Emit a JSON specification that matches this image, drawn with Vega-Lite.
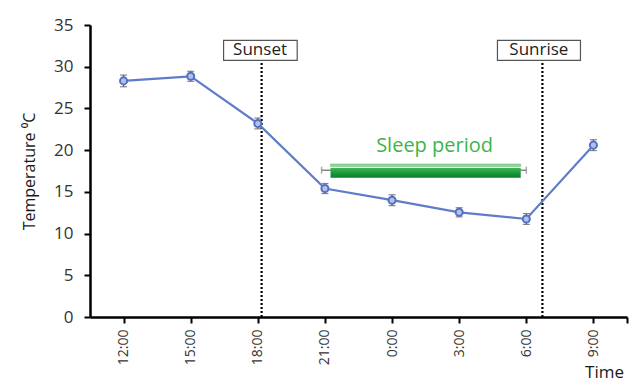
{
  "$schema": "https://vega.github.io/schema/vega-lite/v6.json",
  "width": 537,
  "height": 292,
  "autosize": "none",
  "padding": {"left": 90, "top": 25, "right": 13, "bottom": 71},
  "background": "white",
  "config": {
    "view": {"stroke": null},
    "font": "Open Sans",
    "axis": {"grid": false, "domainColor": "black", "domainWidth": 2.5, "tickColor": "black", "tickWidth": 2, "tickSize": 6, "labelColor": "#333333", "titleColor": "#1a1a1a", "titleFontWeight": "normal"}
  },
  "datasets": {
    "temps": [
      {"h": 0, "time": "12:00", "temp": 28.3, "err": 0.7},
      {"h": 3, "time": "15:00", "temp": 28.85, "err": 0.6},
      {"h": 6, "time": "18:00", "temp": 23.2, "err": 0.65},
      {"h": 9, "time": "21:00", "temp": 15.4, "err": 0.6},
      {"h": 12, "time": "0:00", "temp": 14.0, "err": 0.65},
      {"h": 15, "time": "3:00", "temp": 12.55, "err": 0.55},
      {"h": 18, "time": "6:00", "temp": 11.75, "err": 0.65},
      {"h": 21, "time": "9:00", "temp": 20.6, "err": 0.65}
    ],
    "events": [
      {"label": "Sunset", "h": 6.17, "bx": 4.47, "bx2": 7.76, "tx": 6.1},
      {"label": "Sunrise", "h": 18.72, "bx": 16.71, "bx2": 20.42, "tx": 18.56}
    ],
    "sleep": [
      {"label": "Sleep period", "start": 9.25, "end": 17.75, "wstart": 8.85, "wend": 18.0, "wy": 17.6, "lo": 16.7, "hi": 17.85, "slo": 18.0, "shi": 18.35, "ty": 19.8, "tx": 13.9}
    ]
  },
  "layer": [
    {
      "data": {"name": "events"},
      "mark": {"type": "rule", "color": "black", "strokeWidth": 2.2, "strokeDash": [2, 2]},
      "encoding": {
        "x": {"field": "h", "type": "quantitative", "title": "Time", "scale": {"domain": [-1.5, 22.5], "nice": false, "zero": false},
          "axis": {"values": [0, 3, 6, 9, 12, 15, 18, 21, 22.5], "labelAngle": -90, "labelFontSize": 14, "labelPadding": 6, "labelAlign": "right", "labelBaseline": "middle",
            "labelExpr": "datum.value > 21 ? '' : ['12:00','15:00','18:00','21:00','0:00','3:00','6:00','9:00'][datum.value/3]",
            "titleFontSize": 17, "titleX": 514, "titleY": 60, "titleAlign": "center", "titleBaseline": "alphabetic"}},
        "y": {"datum": 0, "type": "quantitative", "title": "Temperature ⁰C", "scale": {"domain": [0, 35], "nice": false},
          "axis": {"values": [0, 5, 10, 15, 20, 25, 30, 35], "labelFontSize": 17, "labelPadding": 11, "titleFontSize": 16, "titlePadding": 16}},
        "y2": {"datum": 30.8}
      }
    },
    {
      "data": {"name": "events"},
      "mark": {"type": "rect", "fill": "white", "stroke": "#555555", "strokeWidth": 1.2},
      "encoding": {
        "x": {"field": "bx", "type": "quantitative", "title": "Time"},
        "x2": {"field": "bx2"},
        "y": {"datum": 30.75, "type": "quantitative", "title": "Temperature ⁰C"},
        "y2": {"datum": 33.15}
      }
    },
    {
      "data": {"name": "events"},
      "mark": {"type": "text", "fontSize": 17, "color": "#222222", "baseline": "middle", "align": "center"},
      "encoding": {
        "x": {"field": "tx", "type": "quantitative", "title": "Time"},
        "y": {"datum": 31.95, "type": "quantitative", "title": "Temperature ⁰C"},
        "text": {"field": "label"}
      }
    },
    {
      "data": {"name": "sleep"},
      "mark": {"type": "errorbar", "color": "#888888", "thickness": 1.5, "ticks": {"size": 7, "color": "#888888"}},
      "encoding": {
        "x": {"field": "wstart", "type": "quantitative", "title": "Time"},
        "x2": {"field": "wend"},
        "y": {"field": "wy", "type": "quantitative", "title": "Temperature ⁰C"}
      }
    },
    {
      "data": {"name": "sleep"},
      "mark": {"type": "rect", "color": "#8fd49a", "stroke": "#6cc27a", "strokeWidth": 0.5},
      "encoding": {
        "x": {"field": "start", "type": "quantitative", "title": "Time"},
        "x2": {"field": "end"},
        "y": {"field": "slo", "type": "quantitative", "title": "Temperature ⁰C"},
        "y2": {"field": "shi"}
      }
    },
    {
      "data": {"name": "sleep"},
      "mark": {"type": "rect", "color": {"gradient": "linear", "x1": 0, "y1": 0, "x2": 0, "y2": 1, "stops": [{"offset": 0, "color": "#3fb454"}, {"offset": 0.5, "color": "#1c9a3a"}, {"offset": 1, "color": "#0b7d2b"}]}},
      "encoding": {
        "x": {"field": "start", "type": "quantitative", "title": "Time"},
        "x2": {"field": "end"},
        "y": {"field": "lo", "type": "quantitative", "title": "Temperature ⁰C"},
        "y2": {"field": "hi"}
      }
    },
    {
      "data": {"name": "sleep"},
      "mark": {"type": "text", "fontSize": 20, "color": "#3db54a", "baseline": "alphabetic", "align": "center"},
      "encoding": {
        "x": {"field": "tx", "type": "quantitative", "title": "Time"},
        "y": {"field": "ty", "type": "quantitative", "title": "Temperature ⁰C"},
        "text": {"field": "label"}
      }
    },
    {
      "data": {"name": "temps"},
      "mark": {"type": "errorbar", "color": "#555555", "thickness": 1.2, "ticks": {"size": 7, "color": "#555555"}},
      "encoding": {
        "x": {"field": "h", "type": "quantitative", "title": "Time"},
        "y": {"field": "temp", "type": "quantitative", "title": "Temperature ⁰C"},
        "yError": {"field": "err"}
      }
    },
    {
      "data": {"name": "temps"},
      "mark": {"type": "line", "color": "#5f7cc8", "strokeWidth": 2.2},
      "encoding": {
        "x": {"field": "h", "type": "quantitative", "title": "Time"},
        "y": {"field": "temp", "type": "quantitative", "title": "Temperature ⁰C"}
      }
    },
    {
      "data": {"name": "temps"},
      "mark": {"type": "point", "filled": false, "fill": "#b4c0ea", "stroke": "#5470c0", "strokeWidth": 2, "size": 50, "opacity": 1},
      "encoding": {
        "x": {"field": "h", "type": "quantitative", "title": "Time"},
        "y": {"field": "temp", "type": "quantitative", "title": "Temperature ⁰C"}
      }
    }
  ]
}
